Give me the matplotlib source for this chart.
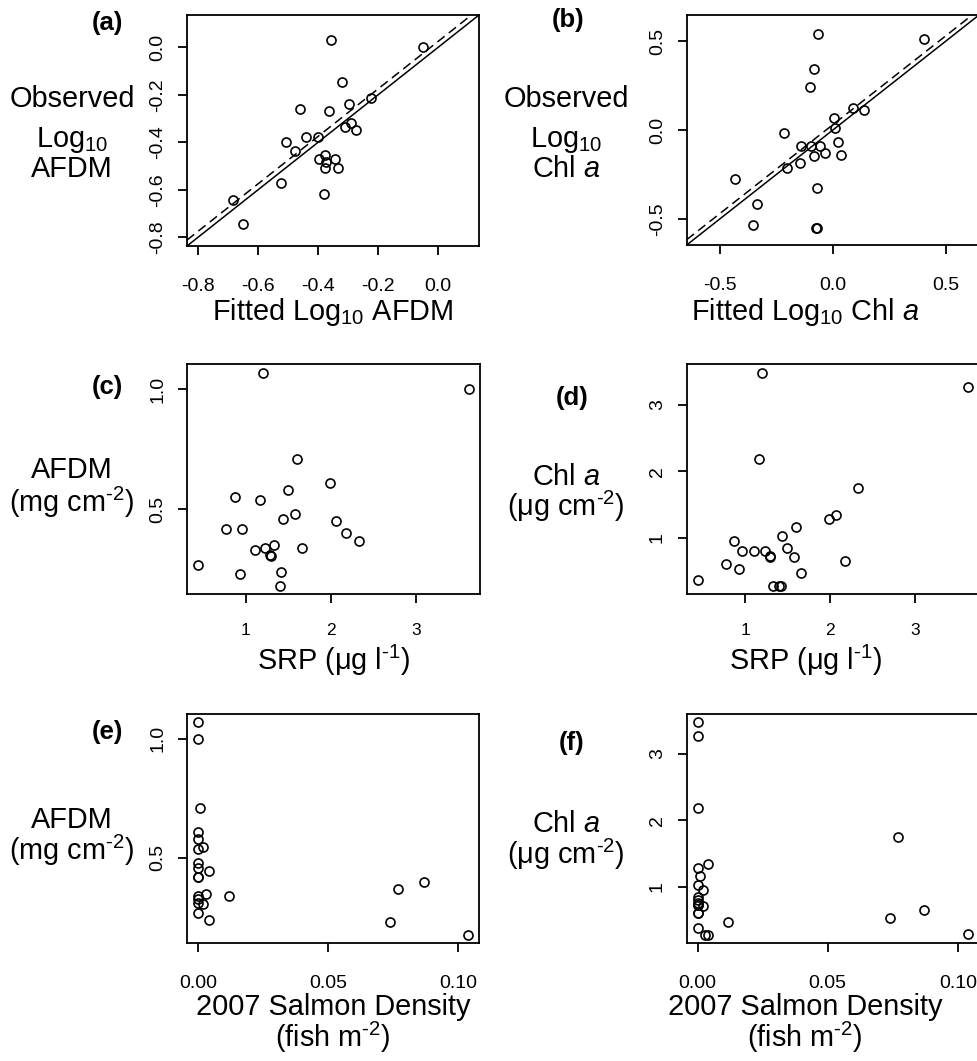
import numpy as np
import matplotlib
matplotlib.use('Agg')
import matplotlib.pyplot as plt

plt.rcParams['font.family'] = ['Liberation Sans', 'DejaVu Sans']
plt.rcParams['mathtext.fontset'] = 'custom'
plt.rcParams['mathtext.rm'] = 'Liberation Sans'
plt.rcParams['mathtext.it'] = 'Liberation Sans:italic'
plt.rcParams['axes.unicode_minus'] = False

# (a) observed vs fitted log10 AFDM
fit_afdm = [-0.356, -0.052, -0.320, -0.223, -0.298, -0.461, -0.363, -0.289, -0.309, -0.274, -0.440, -0.401,
            -0.508, -0.478, -0.378, -0.396, -0.344, -0.372, -0.378, -0.334, -0.522, -0.381, -0.684, -0.651]
obs_afdm = [0.030, 0.000, -0.148, -0.214, -0.237, -0.260, -0.268, -0.319, -0.337, -0.346, -0.378, -0.377,
            -0.399, -0.435, -0.454, -0.468, -0.468, -0.483, -0.508, -0.508, -0.569, -0.619, -0.641, -0.745]
# (b) observed vs fitted log10 Chl a
fit_chl = [-0.068, 0.406, -0.084, -0.103, 0.088, 0.140, 0.003, 0.009, -0.217, 0.021, -0.143, -0.096,
           -0.055, -0.037, -0.084, 0.035, -0.145, -0.204, -0.435, -0.069, -0.338, -0.355, -0.075, -0.072]
obs_chl = [0.542, 0.514, 0.341, 0.244, 0.126, 0.114, 0.066, 0.013, -0.019, -0.069, -0.090, -0.090,
           -0.090, -0.131, -0.146, -0.141, -0.184, -0.214, -0.274, -0.326, -0.418, -0.537, -0.552, -0.552]
# dashed regression lines (intercept, slope)
reg_afdm = (0.025, 1.0)
reg_chl = (0.03, 1.0)

# (c) AFDM vs SRP
srp_c = [1.20, 3.62, 1.60, 1.99, 1.49, 0.87, 1.16, 1.58, 1.44, 2.06, 0.77, 0.96,
         2.17, 2.33, 1.33, 1.23, 1.11, 1.66, 1.28, 1.29, 0.44, 0.93, 1.41, 1.40]
afdm_c = [1.068, 0.999, 0.708, 0.608, 0.579, 0.549, 0.539, 0.479, 0.460, 0.450, 0.419, 0.419,
          0.399, 0.369, 0.350, 0.340, 0.331, 0.340, 0.310, 0.306, 0.269, 0.229, 0.239, 0.181]
# (d) Chl a vs SRP
srp_d = [1.20, 3.63, 1.16, 2.33, 2.07, 1.99, 1.60, 1.44, 0.87, 1.49, 0.96, 1.11,
         1.23, 1.29, 1.29, 1.58, 2.18, 0.77, 0.93, 1.66, 0.44, 1.33, 1.40, 1.42]
chl_d = [3.475, 3.265, 2.185, 1.75, 1.34, 1.285, 1.16, 1.03, 0.96, 0.85, 0.81, 0.81,
         0.81, 0.725, 0.71, 0.715, 0.65, 0.61, 0.53, 0.47, 0.375, 0.285, 0.285, 0.285]
# (e) AFDM vs salmon density
salmon_e = [0, 0, 0.0009, 0, 0, 0.002, 0, 0, 0, 0.0041, 0, 0,
            0.0032, 0, 0, 0, 0.002, 0.0119, 0, 0.0041, 0.087, 0.0769, 0.0738, 0.104]
afdm_e = [1.068, 0.999, 0.708, 0.608, 0.577, 0.547, 0.538, 0.476, 0.458, 0.446, 0.419, 0.419,
          0.348, 0.337, 0.325, 0.311, 0.306, 0.338, 0.267, 0.237, 0.397, 0.367, 0.228, 0.176]
# (f) Chl a vs salmon density
salmon_f = [0, 0, 0, 0.077, 0.0041, 0, 0.001, 0, 0.002, 0, 0, 0,
            0, 0.002, 0, 0, 0.087, 0, 0.074, 0.0119, 0, 0.003, 0.0041, 0.104]
chl_f = [3.47, 3.26, 2.18, 1.745, 1.335, 1.285, 1.155, 1.025, 0.95, 0.85, 0.80, 0.75,
         0.72, 0.71, 0.61, 0.72, 0.65, 0.61, 0.525, 0.47, 0.375, 0.275, 0.275, 0.29]

W, H = 977, 1061
fig = plt.figure(figsize=(W / 100, H / 100), dpi=100)


def r_lim(lo, hi):
    # R style 4% padding
    r = hi - lo
    return lo - 0.04 * r, hi + 0.04 * r


def make_axes(l, t, r, b):
    ax = fig.add_axes([l / W, 1 - b / H, (r - l) / W, (b - t) / H])
    for s in ax.spines.values():
        s.set_linewidth(1.3)
    ax.tick_params(length=6.5, width=1.3, labelsize=14, direction='out')
    ax.tick_params(axis='x', pad=16.5)
    ax.tick_params(axis='y', pad=8.5, labelrotation=90)
    return ax


def scatter(ax, x, y):
    ax.plot(x, y, 'o', mfc='none', mec='black', ms=6.5, mew=1.2, ls='none')


def ftext(x, y, s, **kw):
    fig.text(x / W, 1 - y / H, s, **kw)


lab_kw = dict(fontsize=20.8, ha='center', va='baseline')
pan_kw = dict(fontsize=18.5, fontweight='bold', ha='center', va='center')
sup2 = r'$^{\text{-}2}$'
sup1 = r'$^{\text{-}1}$'

# ---- (a)
ax = make_axes(187, 15, 479, 246)
scatter(ax, fit_afdm, obs_afdm)
lim = r_lim(-0.8, 0.1)
ax.plot(lim, lim, color='black', lw=1.1)
xx = np.array(lim)
ax.plot(xx, reg_afdm[0] + reg_afdm[1] * xx, color='black', lw=1.1, dashes=(6, 3.5))
ax.set_xlim(lim)
ax.set_ylim(lim)
ticks_a = [-0.8, -0.6, -0.4, -0.2, 0.0]
ax.set_xticks(ticks_a, ['-0.8', '-0.6', '-0.4', '-0.2', '0.0'])
ax.set_yticks(ticks_a, ['-0.8', '-0.6', '-0.4', '-0.2', '0.0'], va='center')

# ---- (b)
ax = make_axes(686.7, 15, 979, 245)
scatter(ax, fit_chl, obs_chl)
lim = r_lim(-0.6, 0.6)
ax.plot(lim, lim, color='black', lw=1.1)
xx = np.array(lim)
ax.plot(xx, reg_chl[0] + reg_chl[1] * xx, color='black', lw=1.1, dashes=(6, 3.5))
ax.set_xlim(lim)
ax.set_ylim(lim)
ax.set_xticks([-0.5, 0.0, 0.5], ['-0.5', '0.0', '0.5'])
ax.set_yticks([-0.5, 0.0, 0.5], ['-0.5', '0.0', '0.5'], va='center')

# ---- (c)
ax = make_axes(187.3, 364.3, 480, 594.3)
scatter(ax, srp_c, afdm_c)
ax.set_xlim(r_lim(min(srp_c), max(srp_c)))
ax.set_ylim(r_lim(min(afdm_c), max(afdm_c)))
ax.set_xticks([1, 2, 3], ['1', '2', '3'])
ax.tick_params(axis='x', labelsize=12.5, pad=14.5)
ax.set_yticks([0.5, 1.0], ['0.5', '1.0'], va='center')

# ---- (d)
ax = make_axes(686.7, 364.3, 979, 594.3)
scatter(ax, srp_d, chl_d)
ax.set_xlim(r_lim(min(srp_d), max(srp_d)))
ax.set_ylim(r_lim(min(chl_d), max(chl_d)))
ax.set_xticks([1, 2, 3], ['1', '2', '3'])
ax.tick_params(axis='x', labelsize=12.5, pad=14.5)
ax.set_yticks([1, 2, 3], ['1', '2', '3'], va='center')

# ---- (e)
ax = make_axes(187.3, 714, 479.3, 943.3)
scatter(ax, salmon_e, afdm_e)
ax.set_xlim(r_lim(min(salmon_e), max(salmon_e)))
ax.set_ylim(r_lim(min(afdm_e), max(afdm_e)))
ax.set_xticks([0.0, 0.05, 0.10], ['0.00', '0.05', '0.10'])
ax.set_yticks([0.5, 1.0], ['0.5', '1.0'], va='center')

# ---- (f)
ax = make_axes(686.7, 714, 979, 943.3)
scatter(ax, salmon_f, chl_f)
ax.set_xlim(r_lim(min(salmon_f), max(salmon_f)))
ax.set_ylim(r_lim(min(chl_f), max(chl_f)))
ax.set_xticks([0.0, 0.05, 0.10], ['0.00', '0.05', '0.10'])
ax.set_yticks([1, 2, 3], ['1', '2', '3'], va='center')

# panel letters
ftext(107, 23, '(a)', **pan_kw)
ftext(568, 20, '(b)', **pan_kw)
ftext(107, 387, '(c)', **pan_kw)
ftext(572, 398, '(d)', **pan_kw)
ftext(107, 732, '(e)', **pan_kw)
ftext(572, 743, '(f)', **pan_kw)

# y labels
ftext(72, 107, 'Observed', **lab_kw)
ftext(72, 147, r'Log$_{10}$', **lab_kw)
ftext(72, 177, 'AFDM', **lab_kw)
ftext(566, 107, 'Observed', **lab_kw)
ftext(566, 147, r'Log$_{10}$', **lab_kw)
ftext(566, 177, r'Chl $a$', **lab_kw)

ftext(72, 478, 'AFDM', **lab_kw)
ftext(72, 512, '(mg cm' + sup2 + ')', **lab_kw)
ftext(566, 485, r'Chl $a$', **lab_kw)
ftext(566, 516, r'($\mathrm{\mu}$g cm' + sup2 + ')', **lab_kw)

ftext(72, 828, 'AFDM', **lab_kw)
ftext(72, 860, '(mg cm' + sup2 + ')', **lab_kw)
ftext(566, 832, r'Chl $a$', **lab_kw)
ftext(566, 864, r'($\mathrm{\mu}$g cm' + sup2 + ')', **lab_kw)

# x labels
ftext(333, 320, r'Fitted Log$_{10}$ AFDM', **lab_kw)
ftext(805, 320, r'Fitted Log$_{10}$ Chl $a$', **lab_kw)
ftext(333, 670, r'SRP ($\mathrm{\mu}$g l' + sup1 + ')', **lab_kw)
ftext(805, 670, r'SRP ($\mathrm{\mu}$g l' + sup1 + ')', **lab_kw)
ftext(333, 1015, '2007 Salmon Density', **lab_kw)
ftext(333, 1047, '(fish m' + sup2 + ')', **lab_kw)
ftext(805, 1015, '2007 Salmon Density', **lab_kw)
ftext(805, 1047, '(fish m' + sup2 + ')', **lab_kw)

fig.savefig('out.png', dpi=100)
